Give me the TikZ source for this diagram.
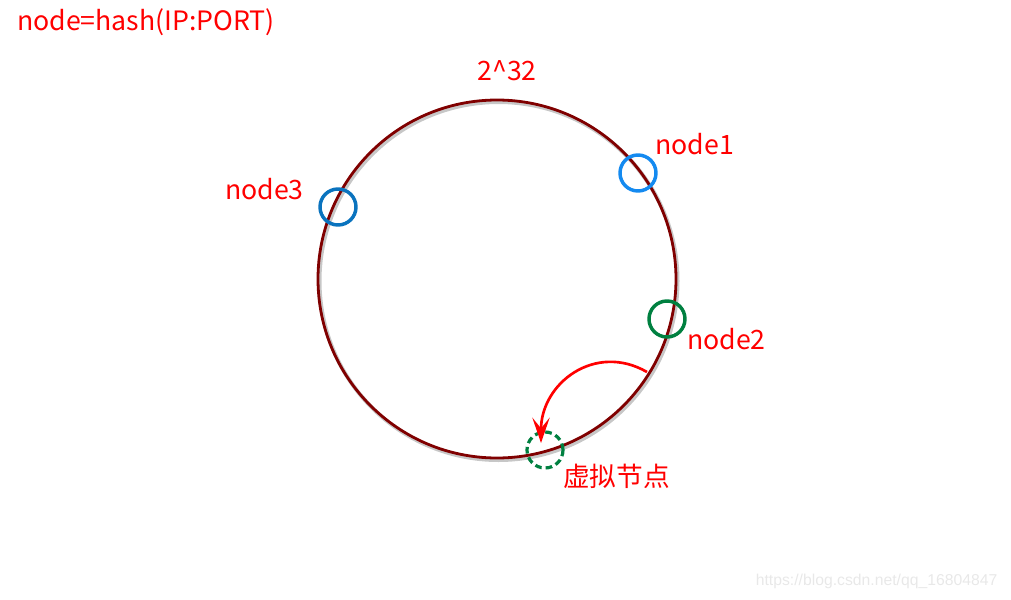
\documentclass[tikz,border=0pt]{standalone}
\usepackage{fontspec}
\setmainfont{Noto Sans CJK SC}
\newfontfamily\markfont{Liberation Sans}
\usepackage{xcolor}
\definecolor{myred1}{RGB}{255,0,0}
\definecolor{mymar1}{RGB}{128,0,0}
\definecolor{myblu1}{RGB}{20,138,240}
\definecolor{myblu2}{RGB}{10,115,190}
\definecolor{mygre1}{RGB}{0,128,64}
\definecolor{mygri1}{RGB}{232,232,232}
\usepackage{tikz}
\usetikzlibrary{positioning}
\usetikzlibrary{arrows.meta}
\tikzstyle{ring} = [draw=mymar1, line width=2.1pt]
\tikzstyle{shade} = [draw=black, opacity=0.22, line width=3pt]
\tikzstyle{server} = [circle, minimum size=27pt, inner sep=0pt, line width=2.6pt]
\tikzstyle{virtual} = [circle, minimum size=27pt, inner sep=0pt, line width=2.4pt, draw=mygre1, dash pattern=on 5pt off 3pt]
\tikzstyle{tag} = [text=myred1, font=\fontsize{20}{24}\selectfont, inner sep=0pt]
\tikzstyle{move} = [line width=2pt, myred1, -{Stealth[length=19pt,width=13pt,inset=8pt]}]

\begin{document}
\begin{tikzpicture}[x=0.75pt,y=0.75pt]
	\useasboundingbox (0,0) rectangle (1011,-600);
	\coordinate (o) at (497,-279);
	\draw [shade] ([shift={(1.5,-2)}]o) circle (179);
	\draw [ring] (o) circle (179);
	\node (title)[tag] at (146,-22){node=hash(IP:PORT)};
	\node (top)[tag] at (507,-71){2\textasciicircum 32};
	\node (n1)[server, draw=myblu1] at (638,-173){};
	\node (n2)[server, draw=mygre1] at (667,-319){};
	\node (n3)[server, draw=myblu2] at (338,-207){};
	\node (v)[virtual] at (545,-450){};
	\node (t1)[tag, above right=3pt and 2.5pt of n1]{node1};
	\node (t2)[tag, below right=-3.5pt and 4.5pt of n2]{node2};
	\node (t3)[tag, above left=-5pt and 15pt of n3]{node3};
	\node (tv)[tag, below right=0pt and 3pt of v]{虚拟节点};
	\node (mark)[text=mygri1, font=\markfont\fontsize{11.8}{13}\selectfont, anchor=east] at (1002,-581){https://blog.csdn.net/qq\_16804847};
	\coordinate (from) at (647,-372);
	\coordinate (to) at (541,-443);
	\draw [move] (from) to[out=150, in=90, looseness=1.2] (to);
\end{tikzpicture}
\end{document}
